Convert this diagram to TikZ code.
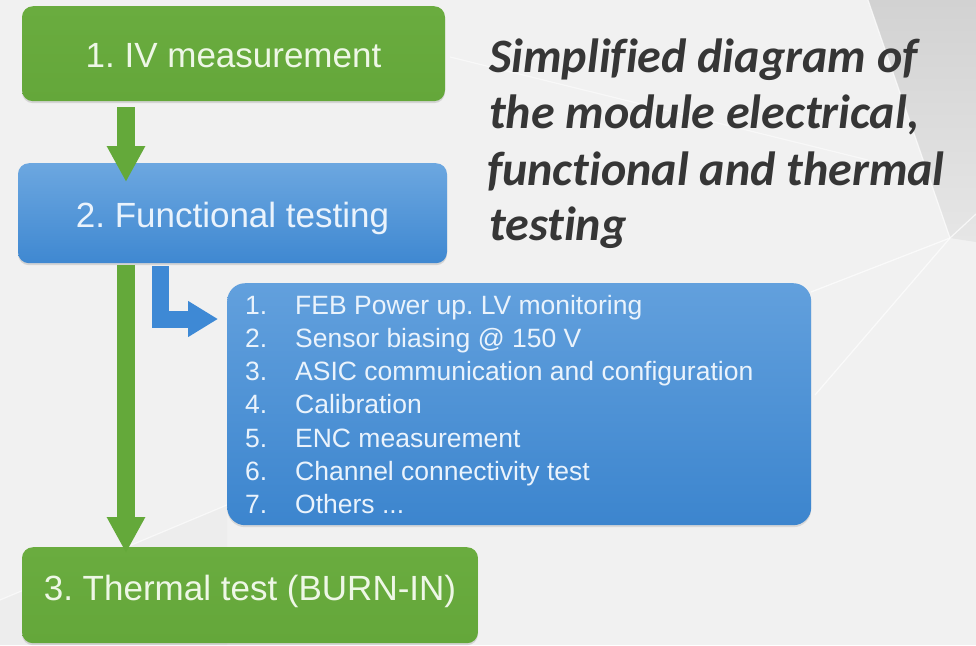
\documentclass[tikz,border=0pt]{standalone}
\usepackage{fontspec}
\setmainfont{Liberation Sans}
\newfontfamily\titlefont[Ligatures=NoCommon]{Carlito}
\usetikzlibrary{arrows.meta,shadows,calc}
\frenchspacing

\definecolor{bgcol}{HTML}{F1F1F1}
\definecolor{bgdark}{HTML}{D2D2D2}
\definecolor{bgmid}{HTML}{E6E6E6}
\definecolor{boxgreen}{HTML}{6AAC3F}
\definecolor{boxgreenb}{HTML}{64A73A}
\definecolor{arrowgreen}{HTML}{64A93A}
\definecolor{bluetop}{HTML}{6CA7E0}
\definecolor{bluebot}{HTML}{3F88D1}
\definecolor{listtop}{HTML}{62A0DD}
\definecolor{listbot}{HTML}{3C85CE}
\definecolor{arrowblue}{HTML}{3E89D5}
\definecolor{greentext}{HTML}{EEF7E6}
\definecolor{bluetext}{HTML}{EAF3FC}
\definecolor{titlecol}{HTML}{363636}

\tikzset{
  flowbox/.style={rectangle, rounded corners=11pt, inner sep=0pt,
    font=\fontsize{35}{40}\selectfont,
    drop shadow={opacity=0.25, shadow xshift=0pt, shadow yshift=-2pt}},
  greenbox/.style={flowbox, top color=boxgreen, bottom color=boxgreenb, text=greentext},
  bluebox/.style={flowbox, top color=bluetop, bottom color=bluebot, text=bluetext},
  listbox/.style={rectangle, rounded corners=18pt, inner sep=0pt,
    top color=listtop, bottom color=listbot,
    drop shadow={opacity=0.22, shadow xshift=0pt, shadow yshift=-2pt}},
  listtext/.style={inner sep=0pt, text=bluetext, font=\fontsize{26.5}{33}\selectfont, anchor=base west},
  titletext/.style={inner sep=0pt, text=titlecol,
    font=\titlefont\bfseries\itshape\fontsize{48}{56}\selectfont},
  greenarrow/.style={draw=arrowgreen, line width=18pt,
    -{Triangle[width=36pt,length=36pt]}},
  bluearrow/.style={draw=arrowblue, line width=17pt, line join=miter,
    -{Triangle[width=34pt,length=30pt]}},
  faint/.style={draw=white, line width=1.2pt, opacity=0.7}
}
\newcommand{\itemnum}[1]{\makebox[50pt][l]{#1}}

\begin{document}
\begin{tikzpicture}[x=1pt,y=-1pt]
\useasboundingbox (0,0) rectangle (976,645);
% background
\fill[bgcol] (0,0) rectangle (976,645);
\shade[top color=bgdark, bottom color=bgmid] (868,0) -- (976,0) -- (976,242) -- (950,238) -- cycle;
\fill[black, opacity=0.015] (0,600) -- (227,505) -- (227,645) -- (0,645) -- cycle;
\draw[faint] (868,0) -- (950,238);
\draw[faint] (950,238) -- (976,214);
\draw[faint] (950,238) -- (811,292);
\draw[faint] (950,238) -- (815,395);
\draw[faint, opacity=0.5] (450,57) -- (868,160);
\draw[faint, opacity=0.6] (0,600) -- (227,505);

% boxes
\node[greenbox, minimum width=423pt, text height=61pt, text depth=34pt, anchor=north]
  (b1) at (233.5,6) {1. IV measurement};
\node[bluebox, minimum width=429pt, text height=64pt, text depth=36pt, anchor=north]
  (b2) at (232.5,163) {2. Functional testing};
\node[greenbox, minimum width=456pt, text height=53pt, text depth=43pt, anchor=north]
  (b3) at (250,547) {3. Thermal test (BURN-IN)};
\node[listbox, minimum width=584pt, minimum height=242pt, anchor=north west]
  (list) at (227,283) {};

% list items
\node[listtext] (l0) at (245,314.0) {\itemnum{1.}FEB Power up. LV monitoring};
\node[listtext] (l1) at (245,347.3) {\itemnum{2.}Sensor biasing @ 150 V};
\node[listtext] (l2) at (245,380.6) {\itemnum{3.}ASIC communication and configuration};
\node[listtext] (l3) at (245,413.9) {\itemnum{4.}Calibration};
\node[listtext] (l4) at (245,447.2) {\itemnum{5.}ENC measurement};
\node[listtext] (l5) at (245,480.5) {\itemnum{6.}Channel connectivity test};
\node[listtext] (l6) at (245,513.8) {\itemnum{7.}Others ...};

% title
\node[titletext, anchor=base west] (t1) at (489,72) {Simplified diagram of};
\node[titletext, anchor=base west] (t2) at (489,128) {the module electrical,};
\node[titletext, anchor=base west] (t3) at (487,185) {functional and thermal};
\node[titletext, anchor=base west] (t4) at (489,240) {testing};

% connectors
\draw[greenarrow] ([xshift=-107.5pt,yshift=-6pt]b1.south) -- ([xshift=-106.5pt,yshift=-19pt]b2.north);
\draw[greenarrow] ([xshift=-106.5pt,yshift=-2pt]b2.south) -- ([xshift=-124pt,yshift=-6pt]b3.north);
\draw[bluearrow, shorten >=9pt] ([xshift=-72pt,yshift=-3pt]b2.south) |- ([yshift=-36pt]list.north west);
\end{tikzpicture}
\end{document}
